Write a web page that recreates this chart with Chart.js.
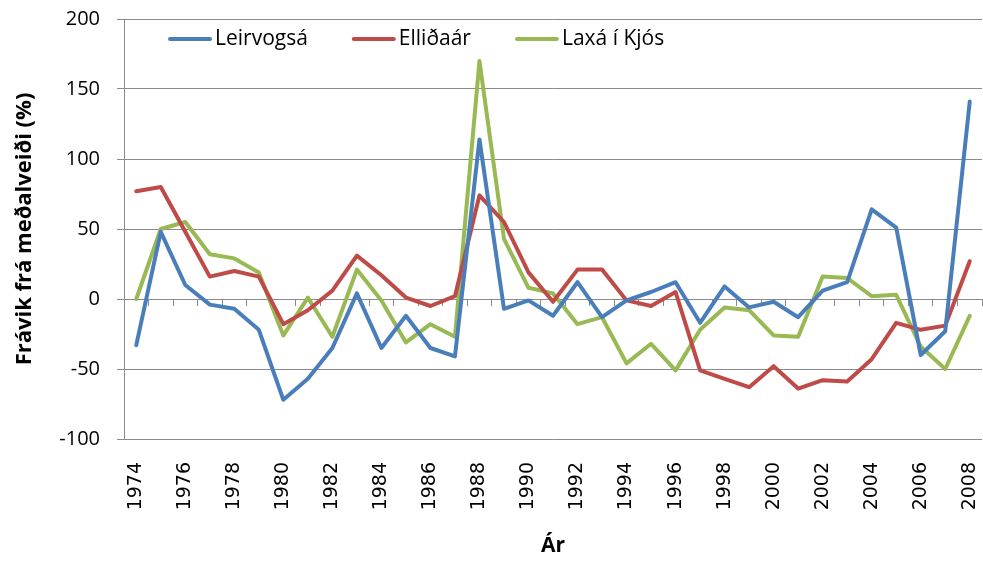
<!DOCTYPE html>
<html>
<head>
<meta charset="utf-8">
<script src="https://cdn.jsdelivr.net/npm/chart.js@4.4.0/dist/chart.umd.min.js"></script>
<style>
  html, body { margin: 0; padding: 0; background: #fff; }
  #wrap { width: 983px; height: 565px; }
</style>
</head>
<body>
<div id="wrap"><canvas id="myChart"></canvas></div>
<script>
const years = [];
for (let y = 1974; y <= 2008; y++) years.push(String(y));

const leirvogsa = [-33, 48, 10, -4, -7, -22, -72, -57, -35, 4, -35, -12, -35, -41, 114,
  -7, -1, -12, 12, -13, -1, 5, 12, -17, 9, -6, -2, -13, 6, 12, 64, 51, -40, -23, 141];
const ellidaar = [77, 80, 48, 16, 20, 16, -18, -8, 6, 31, 17, 1, -5, 2, 74,
  55, 19, -2, 21, 21, -1, -5, 5, -51, -57, -63, -48, -64, -58, -59, -43, -17, -22, -19, 27];
const laxa = [0, 50, 55, 32, 29, 19, -26, 1, -27, 21, -1, -31, -18, -27, 170,
  43, 8, 4, -18, -13, -46, -32, -51, -22, -6, -8, -26, -27, 16, 15, 2, 3, -34, -50, -12];

const gridColor = '#8a8a8a';

// legend drawn inside the plot, like the original
const insideLegend = {
  id: 'insideLegend',
  afterDraw(chart) {
    const ctx = chart.ctx;
    let x = chart.chartArea.left + 44;
    const y = 39;
    ctx.save();
    ctx.font = '21px "Open Sans"';
    ctx.textBaseline = 'middle';
    ctx.textAlign = 'left';
    chart.data.datasets.forEach(ds => {
      ctx.strokeStyle = ds.borderColor;
      ctx.lineWidth = 4;
      ctx.lineCap = 'round';
      ctx.beginPath();
      ctx.moveTo(x + 2, y);
      ctx.lineTo(x + 42, y);
      ctx.stroke();
      ctx.fillStyle = '#000';
      ctx.fillText(ds.label, x + 47, y);
      x += 47 + ctx.measureText(ds.label).width + 44;
    });
    ctx.restore();
  }
};

const line = (label, data, color) => ({
  label: label,
  data: data,
  borderColor: color,
  backgroundColor: color,
  borderWidth: 4,
  pointRadius: 0,
  tension: 0,
  borderJoinStyle: 'round',
  borderCapStyle: 'round'
});

new Chart(document.getElementById('myChart'), {
  type: 'line',
  data: {
    labels: years,
    datasets: [
      line('Leirvogsá', leirvogsa, '#4a7ebb'),
      line('Elliðaár', ellidaar, '#be4b48'),
      line('Laxá í Kjós', laxa, '#98b954')
    ]
  },
  options: {
    responsive: true,
    maintainAspectRatio: false,
    animation: false,
    layout: { padding: { top: 19, right: 1, left: 0, bottom: 0 } },
    plugins: {
      legend: { display: false },
      tooltip: { enabled: false }
    },
    scales: {
      x: {
        type: 'category',
        position: 'bottom',
        offset: true,
        afterFit(scale) { scale.height = 126; },
        // invisible tick marks push the year labels down
        grid: { drawOnChartArea: false, drawTicks: true, tickLength: 23, color: 'rgba(0,0,0,0)' },
        border: { display: false },
        ticks: {
          autoSkip: false,
          maxRotation: 90,
          minRotation: 90,
          padding: 0,
          color: '#000',
          font: { family: 'DejaVu Sans', size: 19, lineHeight: 0.2 },
          callback(val, idx) { return idx % 2 === 0 ? this.getLabelForValue(val) : ''; }
        },
        title: {
          display: true,
          text: 'Ár',
          color: '#000',
          padding: { top: 0, bottom: 6 },
          font: { family: '"Liberation Sans Narrow", "Open Sans"', size: 21, weight: 'bold' }
        }
      },
      x0: {
        type: 'category',
        position: { y: 0 },
        offset: true,
        grid: { drawOnChartArea: false, offset: true, tickLength: 6, color: gridColor },
        border: { color: gridColor },
        ticks: { display: false }
      },
      y: {
        min: -100,
        max: 200,
        afterFit(scale) { scale.width = 124; },
        grid: { color: gridColor, tickLength: 7 },
        border: { color: gridColor },
        ticks: {
          stepSize: 50,
          padding: 17,
          color: '#000',
          font: { family: 'Open Sans', size: 20, lineHeight: 0.2 }
        },
        title: {
          display: true,
          text: 'Frávik frá meðalveiði (%)',
          color: '#000',
          padding: { top: 12, bottom: 0 },
          font: { family: 'Open Sans', size: 22, weight: 'bold' }
        }
      }
    }
  },
  plugins: [insideLegend]
});
</script>
</body>
</html>
